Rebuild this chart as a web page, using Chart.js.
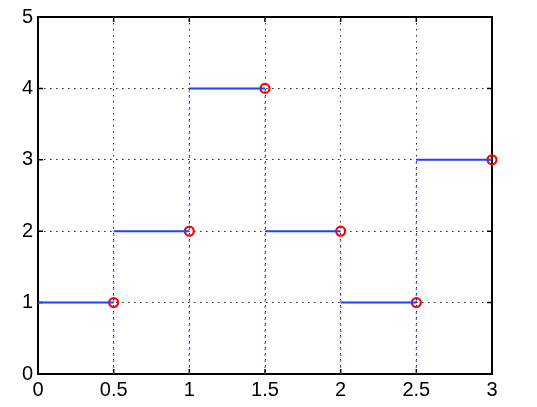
<!DOCTYPE html>
<html>
<head>
<meta charset="utf-8">
<script src="https://cdn.jsdelivr.net/npm/chart.js@4.4.0/dist/chart.umd.min.js"></script>
<style>
  html, body { margin: 0; padding: 0; background: #fff; }
  #contenedor { width: 537px; height: 407px; }
</style>
</head>
<body>
<div id="contenedor"><canvas id="grafico"></canvas></div>
<script>
// bordes de cada escalon y nivel de cada tramo
var bordes = [0, 0.5, 1, 1.5, 2, 2.5, 3];
var niveles = [1, 2, 4, 2, 1, 3];
// lineas punteadas azules en cada salto (x y altura)
var saltosX = [0.5, 1, 1.5, 2, 2.5];
var saltosAlto = [2, 4, 4, 2, 3];
// marcas de los ejes
var ticksX = [0, 0.5, 1, 1.5, 2, 2.5, 3];
var ticksY = [0, 1, 2, 3, 4, 5];

var tramos = [];
var circulos = [];
for (var i = 0; i < niveles.length; i++) {
  tramos.push({x: bordes[i], y: niveles[i]});
  tramos.push({x: bordes[i + 1], y: niveles[i]});
  tramos.push({x: bordes[i + 1], y: null});
  circulos.push({x: bordes[i + 1], y: niveles[i]});
}

var saltos = [];
for (var j = 0; j < saltosX.length; j++) {
  saltos.push({x: saltosX[j], y: 0});
  saltos.push({x: saltosX[j], y: saltosAlto[j]});
  saltos.push({x: saltosX[j], y: null});
}

// caja estilo matlab con marcas hacia adentro
var cajaMatlab = {
  id: 'cajaMatlab',
  beforeDatasetsDraw: function(chart) {
    var ctx = chart.ctx;
    var ca = chart.chartArea;
    var sx = chart.scales.x;
    var sy = chart.scales.y;
    ctx.save();
    ctx.strokeStyle = '#000';
    ctx.lineWidth = 1.5;
    ctx.beginPath();
    ticksX.forEach(function(v) {
      var px = sx.getPixelForValue(v);
      ctx.moveTo(px, ca.bottom); ctx.lineTo(px, ca.bottom - 5);
      ctx.moveTo(px, ca.top); ctx.lineTo(px, ca.top + 5);
    });
    ticksY.forEach(function(v) {
      var py = sy.getPixelForValue(v);
      ctx.moveTo(ca.left, py); ctx.lineTo(ca.left + 5, py);
      ctx.moveTo(ca.right, py); ctx.lineTo(ca.right - 5, py);
    });
    ctx.stroke();
    ctx.lineWidth = 2;
    ctx.strokeRect(ca.left, ca.top, ca.right - ca.left, ca.bottom - ca.top);
    ctx.restore();
  }
};

function colorGrilla(max) {
  return function(c) {
    var v = c.tick ? c.tick.value : 0;
    return (v > 0 && v < max) ? '#222' : 'rgba(0,0,0,0)';
  };
}

Chart.defaults.font.family = "'Liberation Sans', Arial, sans-serif";
Chart.defaults.font.size = 20;
Chart.defaults.color = '#000';

new Chart(document.getElementById('grafico').getContext('2d'), {
  type: 'scatter',
  data: {
    datasets: [
      {
        data: saltos,
        showLine: true,
        spanGaps: false,
        borderColor: 'rgba(60,90,255,0.85)',
        borderWidth: 1.5,
        borderDash: [1.5, 4.5],
        pointRadius: 0,
        clip: false
      },
      {
        data: tramos,
        showLine: true,
        spanGaps: false,
        borderColor: 'rgb(35,65,255)',
        borderWidth: 2,
        pointRadius: 0,
        clip: false
      },
      {
        data: circulos,
        showLine: false,
        pointRadius: 4.5,
        pointBorderWidth: 2.2,
        pointBorderColor: '#ff0000',
        pointBackgroundColor: 'rgba(0,0,0,0)',
        clip: false
      }
    ]
  },
  options: {
    responsive: true,
    maintainAspectRatio: false,
    animation: false,
    layout: { padding: { left: 0, right: 45, top: 16, bottom: 0 } },
    plugins: { legend: { display: false }, tooltip: { enabled: false } },
    scales: {
      x: {
        type: 'linear',
        min: 0,
        max: 3,
        afterBuildTicks: function(s) { s.ticks = ticksX.map(function(v) { return {value: v}; }); },
        afterFit: function(s) { s.height = 33; },
        ticks: { padding: 4, maxRotation: 0, autoSkip: false, callback: function(v) { return String(v); } },
        grid: { color: colorGrilla(3), lineWidth: 1, drawTicks: false },
        border: { display: false, dash: [1.5, 4.5] }
      },
      y: {
        type: 'linear',
        min: 0,
        max: 5,
        afterBuildTicks: function(s) { s.ticks = ticksY.map(function(v) { return {value: v}; }); },
        afterFit: function(s) { s.width = 38; },
        ticks: { padding: 5, autoSkip: false, callback: function(v) { return String(v); } },
        grid: { color: colorGrilla(5), lineWidth: 1, drawTicks: false },
        border: { display: false, dash: [1.5, 4.5] }
      }
    }
  },
  plugins: [cajaMatlab]
});
</script>
</body>
</html>
